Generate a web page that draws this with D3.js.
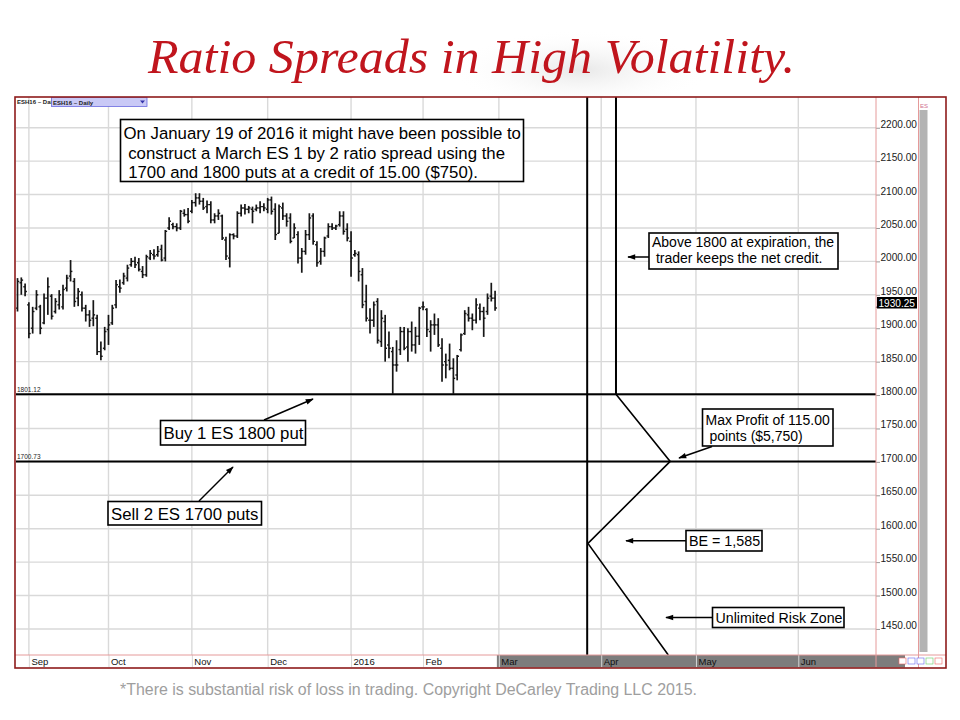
<!DOCTYPE html>
<html>
<head>
<meta charset="utf-8">
<script src="https://cdn.jsdelivr.net/npm/d3@7"></script>
<style>
body { margin: 0; background: #fff; }
svg { display: block; }
</style>
</head>
<body>
<div id="chart"></div>
<script>
// ESH16 daily bars, 27 Aug 2015 .. 29 Feb 2016 (bar index 0..126)
const barOpen = [
    1930, 1968, 1962, 1935, 1900, 1930, 1932, 1908, 1945, 1948, 1925, 1935, 1932, 1960, 1978, 1970,
    1945, 1950, 1930, 1920, 1915, 1915, 1865, 1870, 1898, 1908, 1935, 1962, 1968, 1975, 1995, 2000,
    1998, 1985, 1980, 2005, 2010, 2010, 2018, 2005, 2050, 2055, 2052, 2050, 2072, 2070, 2075, 2088,
    2095, 2090, 2082, 2085, 2062, 2068, 2068, 2032, 2005, 2040, 2038, 2072, 2080, 2078, 2078, 2078,
    2080, 2082, 2078, 2092, 2078, 2042, 2080, 2068, 2065, 2035, 2040, 2005, 2015, 2040, 2068, 2025,
    2000, 2015, 2038, 2052, 2050, 2055, 2068, 2048, 2030, 2010, 2010, 1980, 1940, 1912, 1912, 1940,
    1880, 1910, 1875, 1865, 1845, 1868, 1895, 1872, 1895, 1875, 1888, 1932, 1928, 1895, 1905, 1905,
    1870, 1850, 1852, 1840, 1830, 1868, 1892, 1920, 1915, 1912, 1930, 1925, 1925, 1948, 1945
];
const barHigh = [
    1975, 1976, 1967, 1939, 1932, 1957, 1935, 1952, 1976, 1951, 1945, 1957, 1965, 1980, 2002, 1975,
    1960, 1955, 1935, 1927, 1942, 1920, 1880, 1902, 1920, 1935, 1972, 1973, 1983, 1995, 2005, 2007,
    2005, 1993, 2010, 2017, 2018, 2023, 2025, 2047, 2066, 2058, 2057, 2077, 2078, 2080, 2092, 2102,
    2102, 2095, 2091, 2090, 2072, 2078, 2070, 2037, 2042, 2042, 2075, 2085, 2086, 2083, 2082, 2085,
    2090, 2087, 2095, 2097, 2087, 2085, 2088, 2072, 2072, 2057, 2045, 2020, 2047, 2072, 2072, 2030,
    2020, 2037, 2057, 2057, 2055, 2075, 2075, 2057, 2045, 2017, 2015, 1990, 1965, 1930, 1940, 1945,
    1927, 1920, 1895, 1872, 1882, 1902, 1902, 1900, 1910, 1902, 1932, 1940, 1930, 1912, 1922, 1915,
    1885, 1862, 1877, 1855, 1860, 1892, 1927, 1932, 1922, 1945, 1937, 1932, 1952, 1968, 1956
];
const barLow = [
    1925, 1950, 1948, 1885, 1892, 1927, 1891, 1906, 1920, 1913, 1922, 1928, 1928, 1955, 1970, 1932,
    1933, 1925, 1910, 1902, 1903, 1860, 1852, 1867, 1875, 1905, 1930, 1953, 1965, 1970, 1992, 1990,
    1985, 1975, 1977, 2002, 2003, 2007, 2000, 2000, 2047, 2048, 2045, 2047, 2067, 2057, 2072, 2082,
    2085, 2077, 2072, 2057, 2057, 2062, 2032, 2002, 1991, 2033, 2035, 2067, 2070, 2072, 2057, 2075,
    2072, 2075, 2072, 2070, 2032, 2042, 2062, 2052, 2027, 2035, 1997, 1983, 2010, 2032, 2025, 1992,
    1995, 2007, 2035, 2047, 2047, 2052, 2040, 2030, 1977, 2007, 1970, 1930, 1910, 1892, 1902, 1877,
    1872, 1850, 1855, 1802, 1835, 1860, 1867, 1850, 1865, 1862, 1875, 1927, 1887, 1865, 1890, 1872,
    1820, 1825, 1837, 1802, 1822, 1865, 1890, 1910, 1897, 1907, 1912, 1887, 1920, 1940, 1926
];
const barClose = [
    1970, 1972, 1955, 1892, 1925, 1950, 1900, 1945, 1962, 1918, 1940, 1950, 1958, 1975, 1985, 1940,
    1955, 1930, 1920, 1912, 1920, 1865, 1858, 1895, 1905, 1930, 1965, 1960, 1978, 1990, 2000, 1995,
    1988, 1980, 2007, 2012, 2008, 2015, 2002, 2045, 2060, 2052, 2050, 2075, 2070, 2060, 2088, 2095,
    2090, 2080, 2085, 2062, 2068, 2072, 2035, 2008, 2040, 2038, 2072, 2080, 2078, 2080, 2075, 2080,
    2082, 2080, 2092, 2075, 2040, 2082, 2068, 2060, 2030, 2050, 2005, 2015, 2040, 2065, 2030, 1998,
    2015, 2035, 2052, 2050, 2053, 2068, 2045, 2035, 2005, 2012, 1985, 1935, 1915, 1912, 1935, 1882,
    1915, 1870, 1870, 1845, 1845, 1895, 1870, 1895, 1875, 1888, 1930, 1932, 1898, 1905, 1905, 1875,
    1845, 1845, 1840, 1825, 1858, 1890, 1922, 1915, 1912, 1935, 1925, 1915, 1945, 1945, 1930.25
];
const lastPrice = 1930.25;

const monthLabels = ['Sep', 'Oct', 'Nov', 'Dec', '2016', 'Feb', 'Mar', 'Apr', 'May', 'Jun'];
const monthIndex = [3, 24, 46, 66, 88, 107, 127, 154, 179, 206];
const priceTicks = [1450, 1500, 1550, 1600, 1650, 1700, 1750, 1800, 1850, 1900, 1950, 2000, 2050, 2100, 2150, 2200];

const strikeLines = [1801.12, 1700.73];
// expiration markers and payoff line (bar index, price)
const expiryX = [150.3, 157.9];
const expiryTo = [1411, 1801.12];
const payoffX = [157.9, 172.2, 150.5, 171.7];
const payoffY = [1801.12, 1700.73, 1578, 1411];

width = 960;
height = 720;
plot = ({left: 16, right: 876, top: 97, bottom: 655});

x = d3.scaleLinear().domain([-0.4, 226.5]).range([plot.left, plot.right]);
y = d3.scaleLinear().domain([1411, 2246]).range([plot.bottom, plot.top]);

const svg = d3.select("#chart").append("svg")
    .attr("width", width)
    .attr("height", height)
    .attr("font-family", "'Liberation Sans', Arial, sans-serif");

const defs = svg.append("defs");
defs.append("clipPath").attr("id", "plotclip")
    .append("rect")
    .attr("x", plot.left).attr("y", plot.top)
    .attr("width", plot.right - plot.left).attr("height", plot.bottom - plot.top);
const glow = defs.append("radialGradient").attr("id", "shade");
glow.append("stop").attr("offset", "0%").attr("stop-color", "#c4c4c4").attr("stop-opacity", 0.4);
glow.append("stop").attr("offset", "100%").attr("stop-color", "#ffffff").attr("stop-opacity", 0);
defs.append("marker")
    .attr("id", "arrow")
    .attr("viewBox", "0 0 10 10")
    .attr("refX", 9).attr("refY", 5)
    .attr("markerWidth", 9).attr("markerHeight", 8)
    .attr("markerUnits", "userSpaceOnUse")
    .attr("orient", "auto")
    .append("path")
    .attr("d", "M0,1.5 L10,5 L0,8.5 z")
    .attr("fill", "#000");

// Title
svg.append("ellipse")
    .attr("cx", 580).attr("cy", 70).attr("rx", 130).attr("ry", 40)
    .attr("fill", "url(#shade)");
svg.append("text")
    .attr("x", 148).attr("y", 73)
    .attr("font-family", "'Liberation Serif', 'DejaVu Serif', serif")
    .attr("font-style", "italic")
    .attr("font-size", 48)
    .attr("fill", "#c0151d")
    .attr("textLength", 647)
    .attr("lengthAdjust", "spacingAndGlyphs")
    .text("Ratio Spreads in High Volatility.");

// Frame
svg.append("rect")
    .attr("x", 15).attr("y", 97).attr("width", 931).attr("height", 571)
    .attr("fill", "#fff");

drawGrid = function() {
    const g = svg.append("g").attr("stroke", "#d9d9d9").attr("stroke-width", 1.4);
    g.selectAll(".hg").data(priceTicks).join("line")
        .attr("x1", plot.left).attr("x2", plot.right)
        .attr("y1", d => y(d)).attr("y2", d => y(d));
    g.selectAll(".vg").data(monthIndex).join("line")
        .attr("x1", d => x(d)).attr("x2", d => x(d))
        .attr("y1", plot.top).attr("y2", plot.bottom);
};

drawBars = function() {
    const bars = d3.range(barHigh.length).map(i => ({
        i: i, o: barOpen[i], h: barHigh[i], l: barLow[i], c: barClose[i]
    }));
    const g = svg.append("g")
        .attr("clip-path", "url(#plotclip)")
        .attr("stroke", "#161616")
        .attr("stroke-width", 1.7)
        .selectAll("g")
        .data(bars)
        .join("g");
    g.append("line")
        .attr("x1", d => x(d.i)).attr("x2", d => x(d.i))
        .attr("y1", d => y(d.h)).attr("y2", d => y(d.l));
    g.append("line")
        .attr("stroke-width", 1.4)
        .attr("x1", d => x(d.i) - 1.8).attr("x2", d => x(d.i))
        .attr("y1", d => y(d.o)).attr("y2", d => y(d.o));
    g.append("line")
        .attr("stroke-width", 1.4)
        .attr("x1", d => x(d.i)).attr("x2", d => x(d.i) + 1.8)
        .attr("y1", d => y(d.c)).attr("y2", d => y(d.c));
};

drawStrategy = function() {
    const g = svg.append("g").attr("stroke", "#000").attr("fill", "none");
    g.selectAll(".strike").data(strikeLines).join("line")
        .attr("stroke-width", 2)
        .attr("x1", plot.left).attr("x2", plot.right)
        .attr("y1", d => y(d)).attr("y2", d => y(d));
    svg.append("g")
        .attr("font-size", 6.5).attr("fill", "#222")
        .selectAll("text").data(strikeLines).join("text")
        .attr("x", plot.left + 1).attr("y", d => y(d) - 2)
        .text(d => d.toFixed(2));
    g.selectAll(".expiry").data(expiryX).join("line")
        .attr("stroke-width", 2)
        .attr("x1", d => x(d)).attr("x2", d => x(d))
        .attr("y1", plot.top).attr("y2", (d, i) => y(expiryTo[i]));
    const line = d3.line().x(d => x(d[0])).y(d => y(d[1]));
    g.append("path")
        .datum(payoffX.map((v, i) => [v, payoffY[i]]))
        .attr("stroke-width", 1.6)
        .attr("d", line);
};

callouts = [
    {x: 120.5, y: 119.5, w: 403, h: 62, size: 16.8, lead: 19.5, base: 19.5,
        lines: ["On January 19 of 2016 it might have been possible to",
            " construct a March ES 1 by 2 ratio spread using the",
            " 1700 and 1800 puts at a credit of 15.00 ($750)."]},
    {x: 649, y: 233, w: 189, h: 36, size: 14, lead: 16, base: 14,
        lines: ["Above 1800 at expiration, the", " trader keeps the net credit."],
        arrow: [649, 257, 628, 257]},
    {x: 160.5, y: 420.5, w: 145, h: 24.5, size: 16.8, lead: 0, base: 18.5,
        lines: ["Buy 1 ES 1800 put"], arrow: [264, 420, 313, 399]},
    {x: 108, y: 501.5, w: 153.5, h: 23.5, size: 16.8, lead: 0, base: 18,
        lines: ["Sell 2 ES 1700 puts"], arrow: [199, 501, 233, 467]},
    {x: 702.5, y: 409, w: 130.5, h: 37, size: 14, lead: 15.5, base: 16,
        lines: ["Max Profit of 115.00", " points ($5,750)"], arrow: [712, 446.5, 679, 458]},
    {x: 686, y: 530.5, w: 76, h: 20.5, size: 14.3, lead: 0, base: 15.5,
        lines: ["BE = 1,585"], arrow: [686, 540.7, 626, 540.7]},
    {x: 712.5, y: 607.5, w: 131.5, h: 20, size: 14.2, lead: 0, base: 15.2,
        lines: ["Unlimited Risk Zone"], arrow: [712.5, 617.5, 666, 617.5]}
];

drawCallouts = function() {
    callouts.forEach(c => {
        if (c.arrow) {
            svg.append("line")
                .attr("x1", c.arrow[0]).attr("y1", c.arrow[1])
                .attr("x2", c.arrow[2]).attr("y2", c.arrow[3])
                .attr("stroke", "#000").attr("stroke-width", 1.5)
                .attr("marker-end", "url(#arrow)");
        }
        svg.append("rect")
            .attr("x", c.x).attr("y", c.y).attr("width", c.w).attr("height", c.h)
            .attr("fill", "#fff").attr("stroke", "#000").attr("stroke-width", 1.6);
        svg.append("text")
            .attr("font-size", c.size)
            .attr("fill", "#000")
            .style("white-space", "pre")
            .selectAll("tspan").data(c.lines).join("tspan")
            .attr("x", c.x + 3)
            .attr("y", (d, i) => c.y + c.base + i * c.lead)
            .text(d => d);
    });
};

drawAxes = function() {
    // price axis on the right
    const yAxis = g => g
        .attr("transform", `translate(${plot.right},0)`)
        .call(d3.axisRight(y).tickValues(priceTicks).tickFormat(d3.format(".2f")).tickSize(4).tickPadding(0.5))
        .call(g => g.select(".domain").remove())
        .call(g => g.selectAll(".tick line").attr("stroke", "#999"))
        .call(g => g.selectAll(".tick text")
            .attr("font-size", 10.1)
            .attr("font-family", "'Liberation Sans', Arial, sans-serif")
            .attr("fill", "#1a1a1a")
            .attr("dy", "-0.05em"));
    svg.append("g").call(yAxis);

    // last price flag
    svg.append("line")
        .attr("x1", plot.right).attr("y1", y(lastPrice))
        .attr("x2", plot.right + 3.5).attr("y2", y(lastPrice) - 5)
        .attr("stroke", "#333");
    svg.append("rect")
        .attr("x", plot.right + 1).attr("y", y(lastPrice) - 11)
        .attr("width", 40).attr("height", 11.5)
        .attr("fill", "#000");
    svg.append("text")
        .attr("x", plot.right + 2.5).attr("y", y(lastPrice) - 1.5)
        .attr("font-size", 10.1).attr("fill", "#fff")
        .text(lastPrice.toFixed(2));

    // time axis strip
    svg.append("rect")
        .attr("x", x(monthIndex[6]) - 2).attr("y", plot.bottom)
        .attr("width", 905 - x(monthIndex[6]) + 2).attr("height", 12.5)
        .attr("fill", "#7d7d7d");
    const xAxis = g => g
        .attr("transform", `translate(0,${plot.bottom})`)
        .call(d3.axisBottom(x).tickValues(monthIndex).tickFormat((d, i) => monthLabels[i]).tickSize(12).tickPadding(-9))
        .call(g => g.select(".domain").remove())
        .call(g => g.selectAll(".tick line").attr("stroke", "#d6d6d6"))
        .call(g => g.selectAll(".tick text")
            .attr("text-anchor", "start")
            .attr("dx", 2)
            .attr("font-size", 9.5)
            .attr("font-family", "'Liberation Sans Narrow', 'Liberation Sans', Arial, sans-serif")
            .attr("fill", "#111"));
    svg.append("g").call(xAxis);
};

drawChrome = function() {
    const pink = "#e59a9a";
    svg.append("line").attr("x1", plot.right).attr("x2", plot.right).attr("y1", 97).attr("y2", 668)
        .attr("stroke", pink).attr("stroke-width", 1);
    svg.append("line").attr("x1", 918.5).attr("x2", 918.5).attr("y1", 97).attr("y2", 668)
        .attr("stroke", pink).attr("stroke-width", 1);
    svg.append("line").attr("x1", 15).attr("x2", 946).attr("y1", plot.bottom).attr("y2", plot.bottom)
        .attr("stroke", pink).attr("stroke-width", 1);
    svg.append("rect").attr("x", 919.5).attr("y", 110).attr("width", 8).attr("height", 542)
        .attr("fill", "#b3b3b3");
    svg.append("text").attr("x", 920).attr("y", 108).attr("font-size", 6).attr("fill", "#d07090").text("ES");

    // small buttons bottom right
    svg.append("g").selectAll("rect").data(["#e66", "#66e", "#66e", "#6c6", "#e66"]).join("rect")
        .attr("x", (d, i) => 899 + i * 9).attr("y", 658)
        .attr("width", 7).attr("height", 6)
        .attr("fill", "#fff").attr("stroke", d => d).attr("stroke-width", 0.6);

    // symbol selector, top left
    svg.append("text").attr("x", 17).attr("y", 104).attr("font-size", 6).attr("font-weight", "bold")
        .attr("fill", "#222").text("ESH16 ~ Dai");
    svg.append("rect").attr("x", 51.5).attr("y", 97.5).attr("width", 95.5).attr("height", 9)
        .attr("fill", "#c9c9f6").attr("stroke", "#6a6ae0").attr("stroke-width", 0.8);
    svg.append("text").attr("x", 53).attr("y", 104.5).attr("font-size", 6).attr("font-weight", "bold")
        .attr("fill", "#222").text("ESH16 ~ Daily");
    svg.append("path").attr("d", "M140,100.5 L145,100.5 L142.5,103.5 z").attr("fill", "#3333aa");

    // outer frame
    svg.append("rect")
        .attr("x", 15).attr("y", 97).attr("width", 931).attr("height", 571)
        .attr("fill", "none").attr("stroke", "#8e1b1b").attr("stroke-width", 1.6);
};

drawGrid();
drawBars();
drawStrategy();
drawAxes();
drawChrome();
drawCallouts();

// footer
svg.append("text")
    .attr("x", 120).attr("y", 695)
    .attr("font-family", "'Liberation Sans Narrow', 'Liberation Sans', Arial, sans-serif")
    .attr("font-size", 16)
    .attr("fill", "#9e9e9e")
    .attr("textLength", 577)
    .attr("lengthAdjust", "spacingAndGlyphs")
    .text("*There is substantial risk of loss in trading. Copyright DeCarley Trading LLC 2015.");
</script>
</body>
</html>
